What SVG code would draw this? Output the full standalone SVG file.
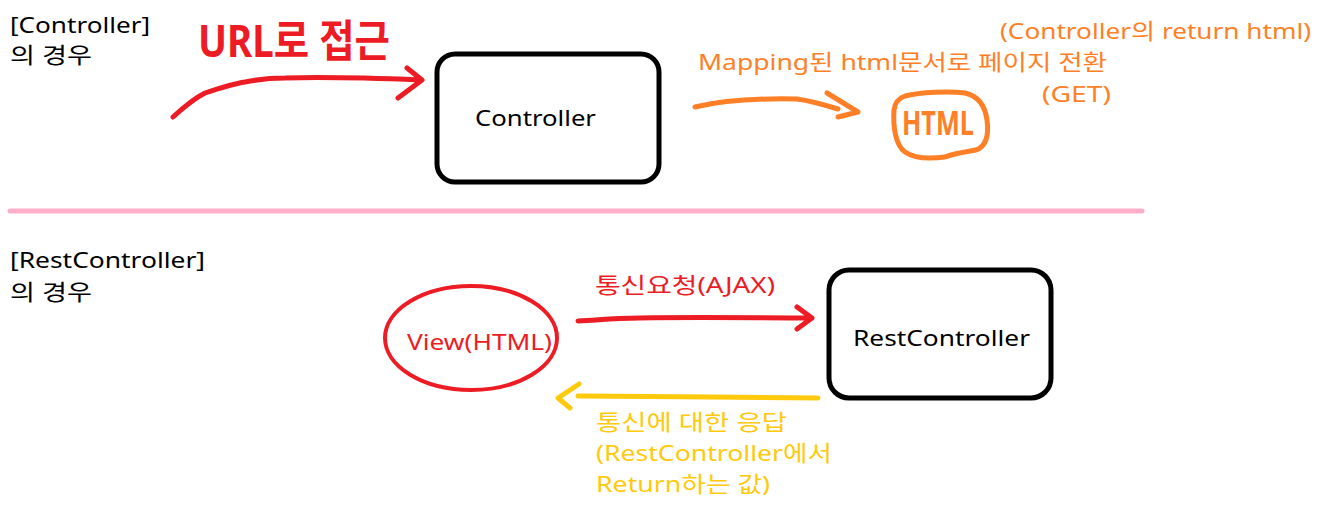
<svg xmlns="http://www.w3.org/2000/svg" width="1322" height="516" viewBox="0 0 1322 516">
<style>
text{font-family:"Noto Sans","Noto Sans CJK KR",sans-serif;font-size:22px}
.k{fill:#000}
.r{fill:#ed1c24}
.o{fill:#ff7f27}
.y{fill:#ffc90e}
.big{font-size:44px;font-weight:bold}
.htm{font-size:34px;font-weight:bold}
.box{fill:#fff;stroke:#000;stroke-width:5}
.s{fill:none;stroke-width:5;stroke-linecap:round;stroke-linejoin:round}
</style>
<rect width="1322" height="516" fill="#fff"/>
<g id="labels">
<text class="k" x="10" y="33" textLength="140" lengthAdjust="spacingAndGlyphs">[Controller]</text>
<text class="k" x="10" y="63" textLength="82" lengthAdjust="spacingAndGlyphs">의 경우</text>
<text class="k" x="10" y="268" textLength="195" lengthAdjust="spacingAndGlyphs">[RestController]</text>
<text class="k" x="10" y="300" textLength="82" lengthAdjust="spacingAndGlyphs">의 경우</text>
</g>
<g id="controller">
<rect class="box" x="437" y="54" width="222" height="128" rx="18"/>
<text class="k" x="475" y="126" textLength="121" lengthAdjust="spacingAndGlyphs">Controller</text>
</g>
<g id="html">
<path class="s" stroke="#ff7f27" d="M905,96 C920,92 950,91 965,93 C978,96 985,105 987,120 C989,135 987,146 976,150 C965,152 955,153 945,157 C930,159 915,159 905,152 C895,145 893,125 894,110 C895,102 899,98 905,96 Z"/>
<text class="o htm" x="902" y="135" textLength="72" lengthAdjust="spacingAndGlyphs">HTML</text>
</g>
<g id="view">
<ellipse cx="471" cy="338" rx="86" ry="52" fill="none" stroke="#ed1c24" stroke-width="4"/>
<text class="r" x="407" y="350" textLength="145" lengthAdjust="spacingAndGlyphs">View(HTML)</text>
</g>
<g id="restcontroller">
<rect class="box" x="829" y="270" width="222" height="128" rx="20"/>
<text class="k" x="853" y="346" textLength="177" lengthAdjust="spacingAndGlyphs">RestController</text>
</g>
<g id="connectors">
<line x1="10" y1="211" x2="1142" y2="211" stroke="#ffaec9" stroke-width="5" stroke-linecap="round"/>
<path class="s" stroke="#ed1c24" d="M173,117 C185,106 195,98 205,93 C220,88 232,84 245,82 C260,79 270,78 285,78 C320,77 370,78 420,80 M407,68 L422,80 L398,98"/>
<path class="s" stroke="#ff7f27" d="M695,107 C720,101 750,98 797,99 C812,101 825,105 838,109 M827,93 L858,112 L838,117"/>
<path class="s" stroke="#ed1c24" d="M578,321 C600,320 610,318 640,318 C700,317 760,318 812,318 M797,307 L812,318 L797,329"/>
<path class="s" stroke="#ffc90e" d="M818,398 C760,398 650,396 578,396 M579,384 L558,398 L570,408"/>
</g>
<g id="edge-labels">
<text class="r big" x="198" y="57" textLength="192" lengthAdjust="spacingAndGlyphs">URL로 접근</text>
<text class="o" x="1000" y="39" textLength="311" lengthAdjust="spacingAndGlyphs">(Controller의 return html)</text>
<text class="o" x="698" y="70" textLength="409" lengthAdjust="spacingAndGlyphs">Mapping된 html문서로 페이지 전환</text>
<text class="o" x="1042" y="102" textLength="69" lengthAdjust="spacingAndGlyphs">(GET)</text>
<text class="r" x="595" y="293" textLength="180" lengthAdjust="spacingAndGlyphs">통신요청(AJAX)</text>
<text class="y" x="596" y="430" textLength="191" lengthAdjust="spacingAndGlyphs">통신에 대한 응답</text>
<text class="y" x="596" y="461" textLength="236" lengthAdjust="spacingAndGlyphs">(RestController에서</text>
<text class="y" x="596" y="492" textLength="174" lengthAdjust="spacingAndGlyphs">Return하는 값)</text>
</g>
</svg>
